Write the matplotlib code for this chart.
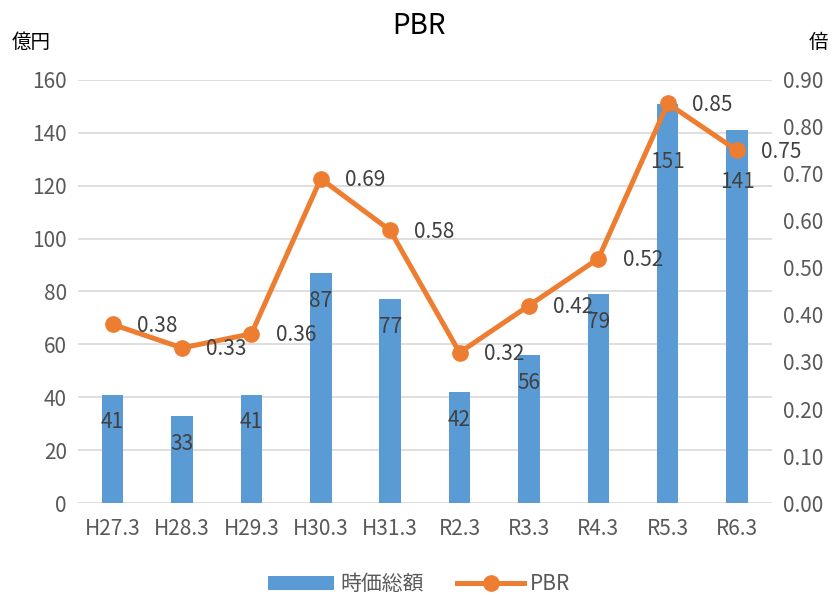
import matplotlib.pyplot as plt
import numpy as np

plt.rcParams['font.family'] = ['Noto Sans CJK JP', 'DejaVu Sans']

years = ['H27.3', 'H28.3', 'H29.3', 'H30.3', 'H31.3', 'R2.3', 'R3.3', 'R4.3', 'R5.3', 'R6.3']
market_cap = [41, 33, 41, 87, 77, 42, 56, 79, 151, 141]
pbr = [0.38, 0.33, 0.36, 0.69, 0.58, 0.32, 0.42, 0.52, 0.85, 0.75]

bar_color = '#5B9BD5'
line_color = '#ED7D31'
text_color = '#595959'
fs = 15

fig = plt.figure(figsize=(8.38, 5.95), dpi=100)
ax = fig.add_axes([0.093, 0.1546, 0.828, 0.711])
ax2 = ax.twinx()

x = np.arange(len(years))
bars = ax.bar(x, market_cap, width=0.31, color=bar_color, label='時価総額', zorder=2)
ax.set_xlim(-0.5, len(years) - 0.5)
ax.set_ylim(0, 160)
ax.set_yticks(range(0, 161, 20))
ax.grid(axis='y', color='#D9D9D9', linewidth=1.2, zorder=0)
ax.set_axisbelow(True)
ax.set_xticks(x)
ax.set_xticklabels(years)

line, = ax2.plot(x, pbr, color=line_color, linewidth=3.6, marker='o', markersize=11,
                 label='PBR', zorder=3)
ax2.set_ylim(0, 0.9)
ax2.set_yticks(np.arange(0, 0.91, 0.1))
ax2.set_yticklabels([f'{v:.2f}' for v in np.arange(0, 0.91, 0.1)])

for a in (ax, ax2):
    for s in a.spines.values():
        s.set_visible(False)
    a.tick_params(length=0, labelsize=fs, colors=text_color, pad=8)
ax.tick_params(axis='x', pad=11)

# bar labels (offset from bar top, in points)
bar_offsets = [-20, -20, -20, -20, -20, -20, -20, -20, -42, -37]
for xi, v, off in zip(x, market_cap, bar_offsets):
    ax.annotate(str(v), (xi, v), xytext=(0, off), textcoords='offset points',
                ha='center', va='center', fontsize=fs, color='#404040', zorder=4)

for xi, v in zip(x, pbr):
    ax2.annotate(f'{v:.2f}', (xi, v), xytext=(32, -1), textcoords='offset points',
                 ha='center', va='center', fontsize=fs, color='#404040', zorder=4)

ax2.set_zorder(ax.get_zorder() + 1)
ax2.patch.set_visible(False)

fig.text(0.5, 0.957, 'PBR', ha='center', va='center', fontsize=20, color='black')
fig.text(0.014, 0.928, '億円', ha='left', va='center', fontsize=14, color='black')
fig.text(0.988, 0.928, '倍', ha='right', va='center', fontsize=14, color='black')

fig.legend([bars, line], ['時価総額', 'PBR'], loc='center', bbox_to_anchor=(0.5, 0.018),
           ncol=2, frameon=False, fontsize=fs, labelcolor=text_color,
           handlelength=3.2, handletextpad=0.3, columnspacing=1.6)

fig.savefig('out.png', dpi=100)
